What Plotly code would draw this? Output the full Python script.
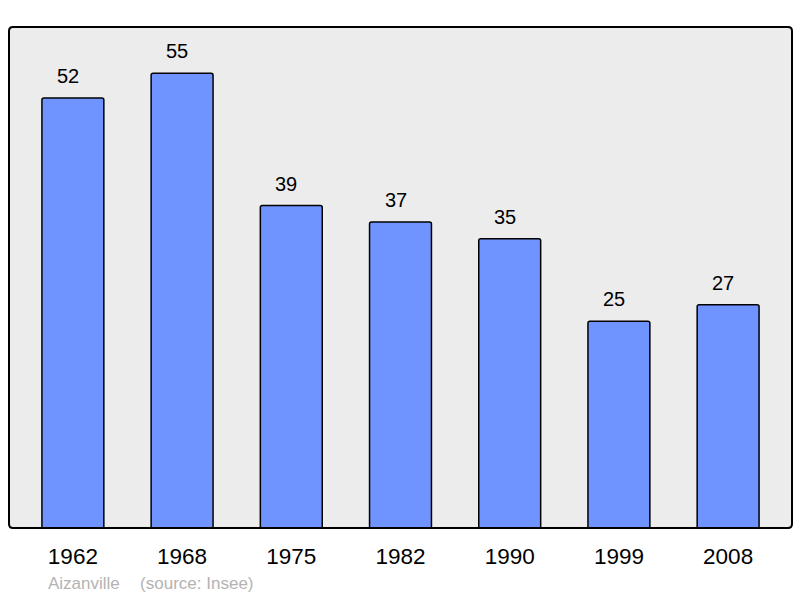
import plotly.graph_objects as go

years = ["1962", "1968", "1975", "1982", "1990", "1999", "2008"]
population = [52, 55, 39, 37, 35, 25, 27]
source_label = "Aizanville\u00a0\u00a0\u00a0\u00a0\u200a(source: Insee)"

W, H = 800, 598
L, R, T, B = 9, 8, 27, 70
FONT = "Liberation Sans, Arial, sans-serif"

fig = go.Figure()
fig.add_trace(go.Bar(
    x=years, y=population,
    width=0.567,
    marker=dict(color="#7094ff", line=dict(color="#000000", width=1.5), cornerradius=2),
    hoverinfo="skip",
))

for i, v in enumerate(population):
    fig.add_annotation(x=i, y=v, text=str(v), showarrow=False, yanchor="bottom", yshift=9, xshift=-5,
                       font=dict(family=FONT, size=20, color="#000"))

fig.add_annotation(xref="paper", yref="paper", x=(46 - L) / (W - L - R), y=-(583 - 528) / (H - T - B),
                   xanchor="left", yanchor="middle", showarrow=False, text=source_label,
                   font=dict(family=FONT, size=17, color="#b3b3b3"))

# rounded frame
pw, ph = W - L - R, H - T - B
rx, ry = 4 / pw, 4 / ph
path = (f"M {rx},0 L {1-rx},0 Q 1,0 1,{ry} L 1,{1-ry} Q 1,1 {1-rx},1 L {rx},1 Q 0,1 0,{1-ry} "
        f"L 0,{ry} Q 0,0 {rx},0 Z")
fig.add_shape(type="path", xref="paper", yref="paper", path=path,
              line=dict(color="#000", width=2), fillcolor="rgba(0,0,0,0)", layer="above")

fig.update_layout(
    width=W, height=H,
    margin=dict(l=L, r=R, t=T, b=B),
    paper_bgcolor="#ffffff",
    plot_bgcolor="#ececec",
    showlegend=False,
    font=dict(family=FONT),
)
fig.update_xaxes(type="category", range=[-0.585, 6.585], showgrid=False, zeroline=False, showline=False,
                 ticks="outside", ticklen=8, tickcolor="rgba(0,0,0,0)",
                 tickfont=dict(size=22.5, color="#000"))
fig.update_yaxes(range=[0, 60.6], showgrid=False, zeroline=False, showline=False,
                 showticklabels=False, ticks="")

fig.write_html("out.html", config={"displayModeBar": False},
               post_script="document.body.style.margin='0';document.body.style.overflow='hidden';")
